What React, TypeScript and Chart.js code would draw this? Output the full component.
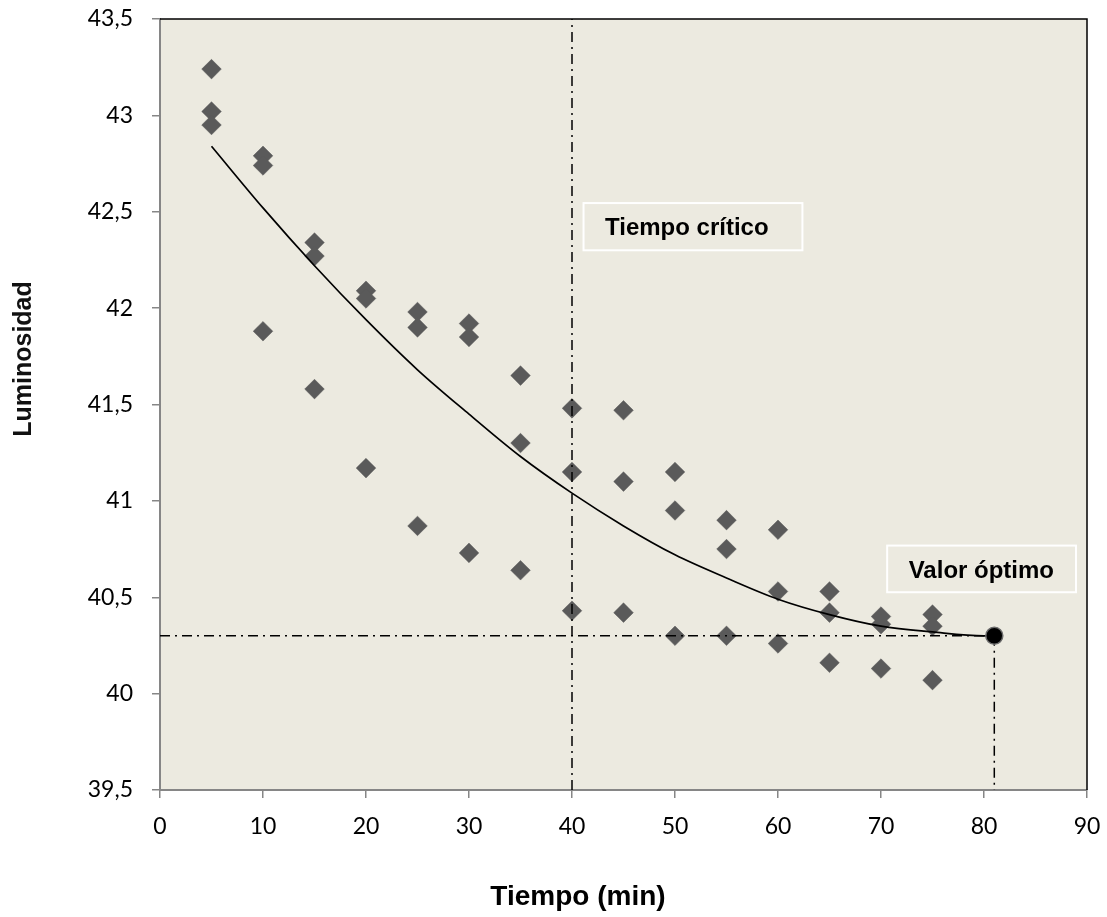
import React, { useEffect, useRef } from 'react';
import { Chart, registerables } from 'chart.js';

Chart.register(...registerables);

// ---- Data ----
const tiempo = [
  5, 5, 5, 10, 10, 10, 15, 15, 15, 20, 20, 20, 25, 25, 25, 30, 30, 30, 35, 35, 35,
  40, 40, 40, 45, 45, 45, 50, 50, 50, 55, 55, 55, 60, 60, 60, 65, 65, 65, 70, 70, 70,
  75, 75, 75,
];
const luminosidad = [
  43.24, 43.02, 42.95, 42.79, 42.74, 41.88, 42.34, 42.27, 41.58, 42.09, 42.05, 41.17,
  41.98, 41.9, 40.87, 41.92, 41.85, 40.73, 41.65, 41.3, 40.64, 41.48, 41.15, 40.43,
  41.47, 41.1, 40.42, 41.15, 40.95, 40.3, 40.9, 40.75, 40.3, 40.85, 40.53, 40.26,
  40.53, 40.42, 40.16, 40.4, 40.36, 40.13, 40.41, 40.35, 40.07,
];

// Trend curve
const trendX = [5, 10, 15, 20, 25, 30, 35, 40, 45, 50, 55, 60, 65, 70, 75, 80, 81];
const trendY = [
  42.84, 42.52, 42.22, 41.94, 41.68, 41.45, 41.23, 41.04, 40.87, 40.72, 40.6, 40.49,
  40.41, 40.35, 40.32, 40.3, 40.3,
];

// Critical time and optimum
const tiempoCritico = 40;
const optimoX = 81;
const optimoY = 40.3;

// Axis ranges / ticks
const xMin = 0;
const xMax = 90;
const xStep = 10;
const yMin = 39.5;
const yMax = 43.5;
const yStep = 0.5;

const xTitle = 'Tiempo (min)';
const yTitle = 'Luminosidad';

// Annotation labels (text, data-space box corners)
const annotTexts = ['Tiempo crítico', 'Valor óptimo'];
const annotX0 = [41.12, 70.6];
const annotX1 = [62.37, 88.93];
const annotYTop = [42.545, 40.768];
const annotYBot = [42.3, 40.526];

const BG = '#ECEAE0';
const AXIS_GREY = '#868686';
const MARKER = '#5a5a5a';

const decorPlugin = {
  id: 'decor',
  beforeDraw(chart: any) {
    const { ctx, chartArea: a } = chart;
    ctx.save();
    ctx.fillStyle = BG;
    ctx.fillRect(a.left, a.top, a.right - a.left, a.bottom - a.top);
    ctx.restore();
  },
  afterDraw(chart: any) {
    const { ctx, chartArea: a, scales } = chart;
    ctx.save();
    // top and right border
    ctx.strokeStyle = '#000';
    ctx.lineWidth = 1.5;
    ctx.beginPath();
    ctx.moveTo(a.left, a.top);
    ctx.lineTo(a.right, a.top);
    ctx.lineTo(a.right, a.bottom);
    ctx.stroke();

    // annotation boxes
    for (let i = 0; i < annotTexts.length; i++) {
      const x0 = scales.x.getPixelForValue(annotX0[i]);
      const x1 = scales.x.getPixelForValue(annotX1[i]);
      const y0 = scales.y.getPixelForValue(annotYTop[i]);
      const y1 = scales.y.getPixelForValue(annotYBot[i]);
      ctx.fillStyle = BG;
      ctx.fillRect(x0, y0, x1 - x0, y1 - y0);
      ctx.strokeStyle = '#ffffff';
      ctx.lineWidth = 2;
      ctx.strokeRect(x0, y0, x1 - x0, y1 - y0);
      ctx.fillStyle = '#000';
      ctx.font = 'bold 24px "Liberation Sans", Arial, sans-serif';
      ctx.textAlign = 'left';
      ctx.textBaseline = 'alphabetic';
      ctx.fillText(annotTexts[i], x0 + 21.5, (y0 + y1) / 2 + 8.6);
    }

    // axis titles
    ctx.fillStyle = '#000';
    ctx.font = 'bold 28px "Liberation Sans", Arial, sans-serif';
    ctx.textAlign = 'center';
    ctx.textBaseline = 'alphabetic';
    ctx.fillText(xTitle, a.left + 418, a.bottom + 115);

    ctx.save();
    ctx.translate(31, a.top + 340);
    ctx.rotate(-Math.PI / 2);
    ctx.font = 'bold 25px "Liberation Sans", Arial, sans-serif';
    ctx.fillStyle = '#111';
    ctx.fillText(yTitle, 0, 0);
    ctx.restore();

    ctx.restore();
  },
};

export default function App() {
  const ref = useRef<HTMLCanvasElement>(null);

  useEffect(() => {
    if (!ref.current) return;
    const scatterData = tiempo.map((x, i) => ({ x, y: luminosidad[i] }));
    const trendData = trendX.map((x, i) => ({ x, y: trendY[i] }));
    const dash = [10, 5, 2, 5];

    const chart = new Chart(ref.current, {
      type: 'scatter',
      data: {
        datasets: [
          {
            label: 'optimo',
            data: [{ x: optimoX, y: optimoY }],
            pointStyle: 'circle',
            pointRadius: 8.5,
            backgroundColor: '#000',
            borderColor: '#6b6b6b',
            borderWidth: 1.5,
            order: 0,
          } as any,
          {
            label: 'h',
            data: [
              { x: xMin, y: optimoY },
              { x: optimoX, y: optimoY },
            ],
            showLine: true,
            borderColor: '#000',
            borderWidth: 1.5,
            borderDash: dash,
            pointRadius: 0,
            order: 1,
          } as any,
          {
            label: 'v40',
            data: [
              { x: tiempoCritico, y: yMin },
              { x: tiempoCritico, y: yMax },
            ],
            showLine: true,
            borderColor: '#000',
            borderWidth: 1.5,
            borderDash: dash,
            pointRadius: 0,
            order: 1,
          } as any,
          {
            label: 'v81',
            data: [
              { x: optimoX, y: optimoY },
              { x: optimoX, y: yMin },
            ],
            showLine: true,
            borderColor: '#000',
            borderWidth: 1.5,
            borderDash: dash,
            pointRadius: 0,
            order: 1,
          } as any,
          {
            label: 'trend',
            data: trendData,
            showLine: true,
            borderColor: '#000',
            borderWidth: 1.7,
            pointRadius: 0,
            cubicInterpolationMode: 'monotone',
            order: 2,
          } as any,
          {
            label: 'datos',
            data: scatterData,
            pointStyle: 'rectRot',
            pointRadius: 9.8,
            backgroundColor: MARKER,
            borderColor: MARKER,
            borderWidth: 0.5,
            order: 3,
          } as any,
        ],
      },
      options: {
        animation: false,
        responsive: true,
        maintainAspectRatio: false,
        events: [],
        layout: { autoPadding: false, padding: { top: 19, right: 20, left: 0, bottom: 0 } },
        plugins: {
          legend: { display: false },
          tooltip: { enabled: false },
        },
        scales: {
          x: {
            type: 'linear',
            min: xMin,
            max: xMax,
            ticks: {
              stepSize: xStep,
              color: '#000',
              font: { family: 'Lato', size: 23 },
              padding: 15,
            },
            grid: {
              drawOnChartArea: false,
              drawTicks: true,
              tickLength: 8,
              color: AXIS_GREY,
              lineWidth: 1.5,
            },
            border: { color: AXIS_GREY, width: 2 },
            afterFit(s: any) {
              s.height = 127;
              s.paddingLeft = 0;
              s.paddingRight = 0;
              s.paddingTop = 0;
              s.paddingBottom = 0;
            },
          },
          y: {
            type: 'linear',
            min: yMin,
            max: yMax,
            ticks: {
              stepSize: yStep,
              color: '#000',
              font: { family: 'Lato', size: 23 },
              padding: 19,
              callback: (v: any) => String(v).replace('.', ','),
            },
            grid: {
              drawOnChartArea: false,
              drawTicks: true,
              tickLength: 8,
              color: AXIS_GREY,
              lineWidth: 1.5,
            },
            border: { color: AXIS_GREY, width: 2 },
            afterFit(s: any) {
              s.width = 160;
              s.paddingLeft = 0;
              s.paddingRight = 0;
              s.paddingTop = 0;
              s.paddingBottom = 0;
            },
          },
        },
      } as any,
      plugins: [decorPlugin],
    });
    return () => chart.destroy();
  }, []);

  return (
    <div style={{ position: 'absolute', left: 0, top: 0, width: 1107, height: 917 }}>
      <canvas ref={ref} />
    </div>
  );
}
